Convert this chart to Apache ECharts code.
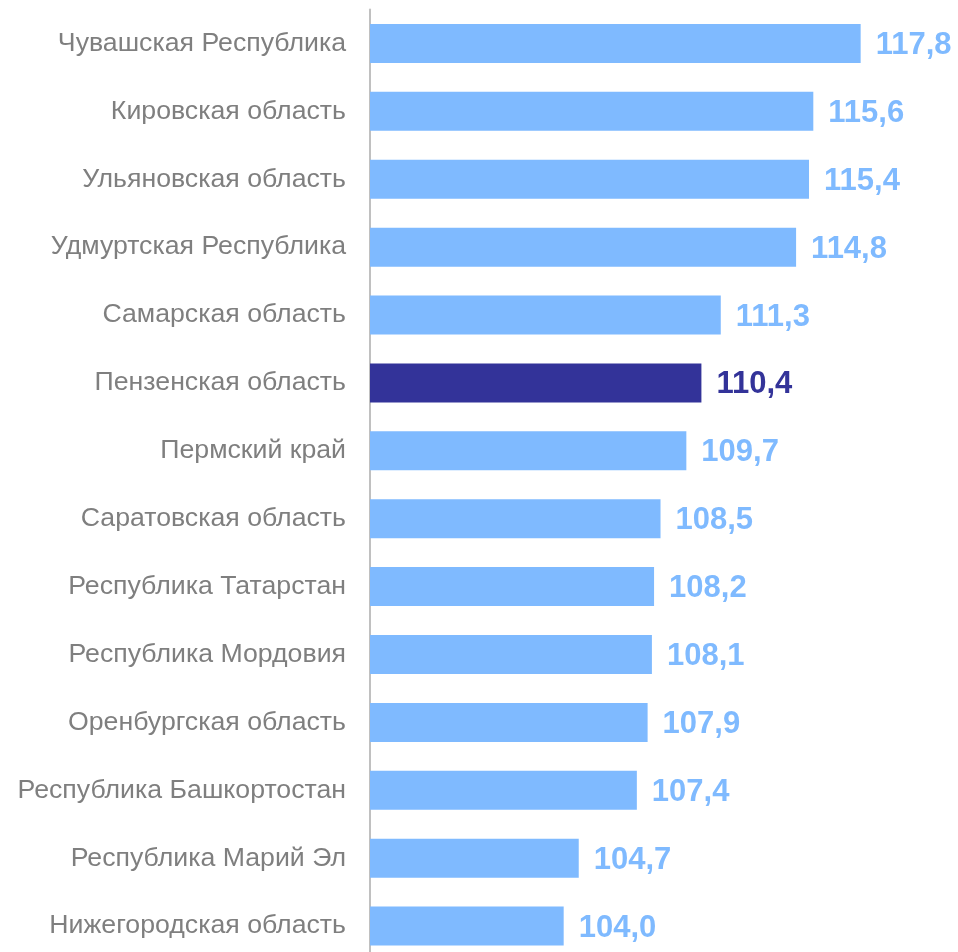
<!DOCTYPE html>
<html>
<head>
<meta charset="utf-8">
<script src="https://cdn.jsdelivr.net/npm/echarts@6/dist/echarts.min.js"></script>
<style>
  html, body { margin: 0; padding: 0; background: #fff; }
  #chart { width: 958px; height: 952px; }
</style>
</head>
<body>
<div id="chart"></div>
<script>
const regions = [
  'Чувашская Республика',
  'Кировская область',
  'Ульяновская область',
  'Удмуртская Республика',
  'Самарская область',
  'Пензенская область',
  'Пермский край',
  'Саратовская область',
  'Республика Татарстан',
  'Республика Мордовия',
  'Оренбургская область',
  'Республика Башкортостан',
  'Республика Марий Эл',
  'Нижегородская область'
];
const values = [117.8, 115.6, 115.4, 114.8, 111.3, 110.4, 109.7, 108.5, 108.2, 108.1, 107.9, 107.4, 104.7, 104.0];
const highlight = 'Пензенская область';

const barColor = '#7fbaff';
const hiColor = '#333399';

const chart = echarts.init(document.getElementById('chart'));

chart.setOption({
  animation: false,
  grid: { left: 370, top: 9.5, right: 50, bottom: -8, outerBoundsMode: 'none' },
  xAxis: {
    type: 'value',
    min: 95,
    max: 120,
    show: false
  },
  yAxis: {
    type: 'category',
    inverse: true,
    data: regions,
    axisTick: { show: false },
    axisLine: { show: true, lineStyle: { color: '#c0c0c0', width: 2 } },
    axisLabel: {
      margin: 24,
      fontFamily: 'Liberation Sans, Arial, sans-serif',
      fontSize: 26.7,
      color: '#7f7f7f'
    }
  },
  series: [{
    type: 'bar',
    barWidth: 39,
    data: values.map((v, i) => ({
      value: v,
      itemStyle: { color: regions[i] === highlight ? hiColor : barColor },
      label: { color: regions[i] === highlight ? hiColor : barColor }
    })),
    label: {
      show: true,
      position: 'right',
      distance: 15,
      offset: [0, 2],
      fontFamily: 'Liberation Sans, Arial, sans-serif',
      fontSize: 31,
      fontWeight: 'bold',
      formatter: p => p.value.toFixed(1).replace('.', ',')
    }
  }]
});
</script>
</body>
</html>
